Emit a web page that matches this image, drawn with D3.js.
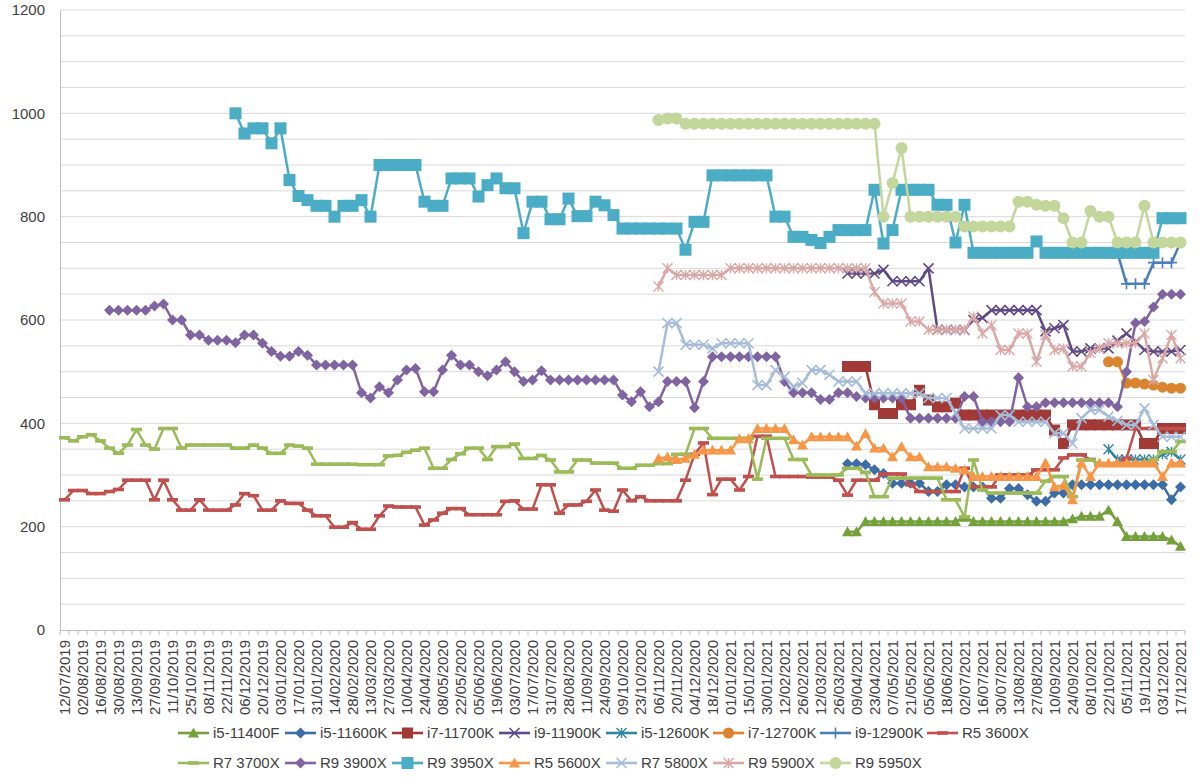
<!DOCTYPE html>
<html><head><meta charset="utf-8">
<script src="https://cdn.jsdelivr.net/npm/d3@7"></script>
<style>
body{margin:0;background:#fff;}
svg{display:block;font-family:"Liberation Sans",Arial,sans-serif;}
</style>
</head><body>
<svg id="chart" width="1200" height="784"></svg>
<script>
// ---------------- DATA ----------------
const categoryCount = 125; // weekly-ish observations, every 2nd one labelled
const tickLabels = ["12/07/2019","02/08/2019","16/08/2019","30/08/2019","13/09/2019","27/09/2019","11/10/2019","25/10/2019","08/11/2019","22/11/2019","06/12/2019","20/12/2019","03/01/2020","17/01/2020","31/01/2020","14/02/2020","28/02/2020","13/03/2020","27/03/2020","10/04/2020","24/04/2020","08/05/2020","22/05/2020","05/06/2020","19/06/2020","03/07/2020","17/07/2020","31/07/2020","28/08/2020","11/09/2020","24/09/2020","09/10/2020","23/10/2020","06/11/2020","20/11/2020","04/12/2020","18/12/2020","01/01/2021","15/01/2021","30/01/2021","12/02/2021","26/02/2021","12/03/2021","26/03/2021","09/04/2021","23/04/2021","07/05/2021","21/05/2021","05/06/2021","18/06/2021","02/07/2021","16/07/2021","30/07/2021","13/08/2021","27/08/2021","10/09/2021","24/09/2021","08/10/2021","22/10/2021","05/11/2021","19/11/2021","03/12/2021","17/12/2021"];
const yTicks = [0,200,400,600,800,1000,1200];

// first category index of each series
const seriesStart = {"i5-11400F":87,"i5-11600K":87,"i7-11700K":87,"i9-11900K":87,"i5-12600K":116,"i7-12700K":116,"i9-12900K":114,"R5 3600X":0,"R7 3700X":0,"R9 3900X":5,"R9 3950X":19,"R5 5600X":66,"R7 5800X":66,"R9 5900X":66,"R9 5950X":66};

const i5_11400F = [190,190,210,210,210,210,210,210,210,210,210,210,210,218,210,210,210,210,210,210,210,210,210,210,210,215,220,220,220,232,210,181,181,181,181,181,174,162];
const i5_11600K = [322,322,320,310,303,284,284,284,284,268,268,281,281,277,277,277,255,255,274,274,262,249,249,265,265,281,281,281,281,281,281,281,281,281,281,281,252,277];
const i7_11700K = [510,510,510,436,419,419,436,436,464,445,432,432,439,416,416,416,416,416,416,416,416,416,416,387,361,397,397,397,397,397,397,397,397,361,361,390,390,390];
const i9_11900K = [690,690,690,690,697,675,675,675,675,700,581,581,581,581,600,604,619,619,619,619,619,619,578,584,590,539,539,545,545,545,560,574,558,542,539,539,539,542];
const i5_12600K = [350,330,330,330,330,330,340,345,330];
const i7_12700K = [519,519,478,478,476,474,470,468,468];
const i9_12900K = [730,730,730,730,670,670,670,711,711,711,750];
const r5_3600X = [252,270,270,264,264,268,272,290,290,290,
  252,290,252,232,232,252,232,232,232,242,
  264,260,232,232,250,245,245,232,221,221,
  199,199,208,195,195,221,240,238,238,238,
  203,213,226,235,235,223,223,223,223,249,
  250,234,234,281,281,226,242,242,249,271,
  232,230,271,250,258,250,250,250,250,290,
  340,362,262,292,292,271,297,375,375,297,
  297,297,297,296,296,296,290,261,290,290,
  290,302,302,302,281,268,268,268,268,268,
  313,277,277,277,300,300,300,300,310,310,
  310,333,339,339,330,320,320,320,332,390,
  390,390,390,390,390];
const r7_3700X = [372,366,374,378,366,352,342,358,388,358,
  350,390,390,352,358,358,358,358,358,352,
  352,358,352,342,342,358,356,352,321,321,
  321,321,321,320,320,320,337,338,344,348,
  352,313,313,330,341,352,352,330,355,355,
  360,332,332,338,329,306,306,329,329,323,
  323,323,313,313,319,319,322,322,340,340,
  390,390,371,371,371,371,371,292,371,371,
  371,330,330,300,300,300,300,313,313,305,
  258,258,294,294,294,294,294,294,252,252,
  219,329,271,265,265,265,265,265,265,288,
  297,297,258,329,329,322,322,322,322,322,
  322,330,345,345,365];
const r9_3900X = [619,619,619,619,619,
  627,631,600,600,571,571,561,561,561,556,
  571,571,555,539,530,530,539,532,513,513,
  513,513,513,459,449,471,459,484,503,506,
  461,461,503,532,513,513,500,492,503,519,
  500,481,484,502,484,484,484,484,484,484,
  484,484,455,442,461,432,442,481,481,481,
  430,481,529,529,529,529,529,529,529,529,
  481,459,459,459,446,446,459,459,452,449,
  449,449,449,449,410,410,410,410,410,410,
  452,452,403,403,403,403,488,432,432,440,
  440,440,440,440,440,440,440,432,500,594,
  597,625,650,650,650];
const r9_3950X = [1000,961,971,971,942,971,871,840,832,821,821,
  800,821,821,832,800,900,900,900,900,900,
  829,821,821,874,874,874,839,861,874,855,
  855,768,829,829,795,795,835,801,801,829,
  822,803,777,777,777,777,777,777,777,736,
  790,790,880,880,880,880,880,880,880,800,
  800,761,761,755,749,761,774,774,774,774,
  852,748,774,852,852,852,852,823,823,750,
  823,730,730,730,730,730,730,730,752,730,
  730,730,730,730,730,730,730,730,730,730,
  730,730,797,797,797];
const r5_5600X = [332,335,330,332,
  340,348,348,348,348,370,370,390,390,390,
  390,368,358,374,374,374,374,374,356,380,
  352,352,335,355,335,335,316,316,316,313,
  310,297,297,297,297,297,297,297,297,323,
  277,280,252,323,297,323,323,323,323,323,
  323,323,297,323,323];
const r7_5800X = [500,594,594,552,
  552,552,545,555,555,555,555,474,474,503,
  490,471,478,503,503,494,481,481,481,458,
  458,458,458,458,458,458,449,449,449,420,
  390,390,390,390,416,416,403,403,403,403,
  381,381,361,410,426,426,413,405,397,397,
  429,397,374,374,374];
const r9_5900X = [665,700,687,687,
  687,687,687,687,700,700,700,700,700,700,
  700,700,700,700,700,700,700,700,700,700,
  654,632,632,632,597,597,581,581,581,581,
  581,607,574,590,542,542,574,574,519,571,
  542,545,510,510,536,545,555,555,555,555,
  574,484,526,571,526];
const r9_5950X = [987,990,990,980,
  980,980,980,980,980,980,980,980,980,980,
  980,980,980,980,980,980,980,980,980,980,
  980,800,865,933,800,800,800,800,800,800,
  781,781,781,781,781,781,829,829,823,821,
  821,797,750,750,811,800,800,750,750,750,
  821,750,750,750,750];

// ---------------- STYLE TABLE ----------------
const series = [
  {name:"i5-11400F", values:i5_11400F, color:"#74A03C", marker:"triangle", size:11},
  {name:"i5-11600K", values:i5_11600K, color:"#3C6DA6", marker:"diamond", size:11},
  {name:"i7-11700K", values:i7_11700K, color:"#A13A37", marker:"square", size:11},
  {name:"i9-11900K", values:i9_11900K, color:"#5F4A86", marker:"x", size:10},
  {name:"i5-12600K", values:i5_12600K, color:"#31859C", marker:"star", size:10},
  {name:"i7-12700K", values:i7_12700K, color:"#DA8430", marker:"circle", size:11},
  {name:"i9-12900K", values:i9_12900K, color:"#4A7EBB", marker:"plus", size:11},
  {name:"R5 3600X", values:r5_3600X, color:"#C0504D", marker:"dash", size:11},
  {name:"R7 3700X", values:r7_3700X, color:"#9BBB59", marker:"dash", size:11},
  {name:"R9 3900X", values:r9_3900X, color:"#8064A2", marker:"diamond", size:11},
  {name:"R9 3950X", values:r9_3950X, color:"#4BACC6", marker:"square", size:12},
  {name:"R5 5600X", values:r5_5600X, color:"#F79646", marker:"triangle", size:11},
  {name:"R7 5800X", values:r7_5800X, color:"#A6BCDA", marker:"x", size:10},
  {name:"R9 5900X", values:r9_5900X, color:"#DAA8A6", marker:"star", size:10},
  {name:"R9 5950X", values:r9_5950X, color:"#C3D69B", marker:"circle", size:12}
];

// ---------------- CHART ----------------
const svg = d3.select("#chart");
const plot = {left:60, right:1185, top:10, bottom:630};
const x = d3.scaleBand().domain(d3.range(categoryCount)).range([plot.left, plot.right]).padding(0);
const cx = i => x(i) + x.bandwidth()/2;
const y = d3.scaleLinear().domain([0,1200]).range([plot.bottom, plot.top]);

// gridlines every 50
svg.append("g").selectAll("line").data(d3.range(50,1201,50)).join("line")
  .attr("x1",plot.left).attr("x2",plot.right)
  .attr("y1",d=>y(d)).attr("y2",d=>y(d))
  .attr("stroke","#D9D9D9").attr("stroke-width",1);

// y axis
const yAxis = svg.append("g").attr("transform",`translate(${plot.left},0)`)
  .call(d3.axisLeft(y).tickValues(yTicks).tickFormat(d3.format("d")).tickSize(0).tickPadding(15));
yAxis.select(".domain").attr("stroke","#BFBFBF");
yAxis.selectAll("text").attr("font-size",15).attr("font-family","Liberation Sans, Arial, sans-serif").attr("fill","#404040");

// x axis
const xAxis = svg.append("g").attr("transform",`translate(0,${plot.bottom})`)
  .call(d3.axisBottom(x).tickValues(d3.range(0,categoryCount,2)).tickFormat(i=>tickLabels[i/2]).tickSize(0));
xAxis.select(".domain").attr("stroke","#BFBFBF");
xAxis.selectAll("text")
  .attr("font-size",15).attr("font-family","Liberation Sans, Arial, sans-serif").attr("fill","#404040")
  .attr("x",-10).attr("y",0).attr("dy","0.36em")
  .attr("transform","rotate(-90)").style("text-anchor","end");
// category boundary tick marks
svg.append("g").selectAll("line").data(d3.range(categoryCount+1)).join("line")
  .attr("x1",i=> i<categoryCount ? x(i) : plot.right).attr("x2",i=> i<categoryCount ? x(i) : plot.right)
  .attr("y1",plot.bottom).attr("y2",plot.bottom+5)
  .attr("stroke","#BFBFBF").attr("stroke-width",1);

function addMarker(g, type, color, s){
  const h = s/2;
  switch(type){
    case "triangle":
      g.append("path").attr("d",`M0,${-h}L${h},${h*0.8}L${-h},${h*0.8}Z`).attr("fill",color); break;
    case "diamond":
      g.append("path").attr("d",`M0,${-h}L${h},0L0,${h}L${-h},0Z`).attr("fill",color); break;
    case "square":
      g.append("rect").attr("x",-h).attr("y",-h).attr("width",s).attr("height",s).attr("fill",color); break;
    case "circle":
      g.append("circle").attr("r",h).attr("fill",color); break;
    case "x":
      g.append("path").attr("d",`M${-h},${-h}L${h},${h}M${-h},${h}L${h},${-h}`).attr("stroke",color).attr("stroke-width",1.6).attr("fill","none"); break;
    case "star":
      g.append("path").attr("d",`M${-h},${-h}L${h},${h}M${-h},${h}L${h},${-h}M0,${-h}L0,${h}`).attr("stroke",color).attr("stroke-width",1.4).attr("fill","none"); break;
    case "plus":
      g.append("path").attr("d",`M${-h},0L${h},0M0,${-h}L0,${h}`).attr("stroke",color).attr("stroke-width",1.6).attr("fill","none"); break;
    case "dash":
      g.append("rect").attr("x",-h).attr("y",-1.8).attr("width",s).attr("height",3.6).attr("fill",color); break;
  }
}

const line = d3.line().x(d=>cx(d.i)).y(d=>y(d.v));
series.forEach(s=>{
  const start = seriesStart[s.name];
  const pts = s.values.map((v,k)=>({i:start+k, v}));
  const g = svg.append("g");
  g.append("path").datum(pts).attr("d",line)
    .attr("fill","none").attr("stroke",s.color).attr("stroke-width",2.5).attr("stroke-linejoin","round");
  pts.forEach(p=>{
    const mg = g.append("g").attr("transform",`translate(${cx(p.i)},${y(p.v)})`);
    addMarker(mg, s.marker, s.color, s.size);
  });
});

// legend
const legendRows = [series.slice(0,8), series.slice(8)];
const legendY = [733, 763];
legendRows.forEach((row,r)=>{
  row.forEach((s,k)=>{
    const lx = 178 + k*107;
    const g = svg.append("g").attr("transform",`translate(${lx},${legendY[r]})`);
    g.append("line").attr("x1",0).attr("x2",31).attr("y1",0).attr("y2",0).attr("stroke",s.color).attr("stroke-width",2.6);
    const mg = g.append("g").attr("transform","translate(15.5,0)");
    addMarker(mg, s.marker, s.color, s.size);
    g.append("text").attr("x",35).attr("y",0).attr("dy","0.35em")
      .attr("font-size",15).attr("fill","#404040").text(s.name);
  });
});
</script>
</body></html>
